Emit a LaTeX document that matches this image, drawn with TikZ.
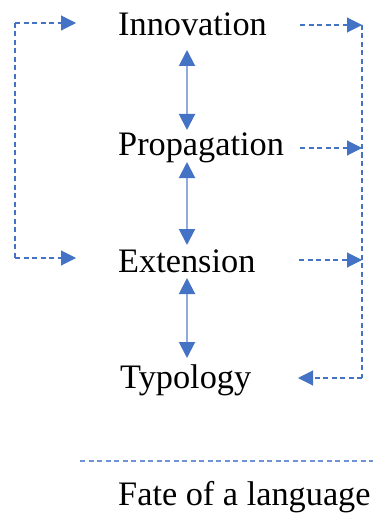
\documentclass[tikz,border=0pt]{standalone}
\usepackage{fontspec}
\setmainfont{Liberation Serif}
\usetikzlibrary{arrows.meta}
\definecolor{tipblue}{HTML}{4472C4}
\definecolor{shaftblue}{HTML}{8FAADC}
\definecolor{ruleblue}{HTML}{6F93D6}
\begin{document}
\begin{tikzpicture}[x=1pt,y=-1pt,
  label/.style={anchor=base west,inner sep=0pt,font=\fontsize{34.3}{40}\selectfont},
  both/.style={draw=shaftblue,line width=2pt,
    {Triangle[length=16pt,width=16pt,color=tipblue]}-{Triangle[length=16pt,width=16pt,color=tipblue]}},
  flow/.style={draw=tipblue,line width=1.1pt,dash pattern=on 5pt off 3.5pt},
  flowtip/.style={flow,-{Triangle[length=15pt,width=15pt,color=tipblue]}}]
\useasboundingbox (0,0) rectangle (375,513);

% stages
\node[label] (inn) at (118,36) {Innovation};
\node[label] (pro) at (118,155) {Propagation};
\node[label] (ext) at (118,272) {Extension};
\node[label] (typ) at (120,388) {Typology};
\node[label] (fate) at (118,505) {Fate of a language};

% two-way links between stages
\coordinate (a1) at (187,50);  \coordinate (a2) at (187,130);
\coordinate (b1) at (187,162); \coordinate (b2) at (187,245);
\coordinate (c1) at (187,278); \coordinate (c2) at (187,358);
\draw[both] (a1) -- (a2);
\draw[both] (b1) -- (b2);
\draw[both] (c1) -- (c2);

% left loop: innovation and extension
\coordinate (l1) at (15,23);  \coordinate (l1t) at (76,23);
\coordinate (l2) at (15,258); \coordinate (l2t) at (76,258);
\draw[flowtip] (l1) -- (l1t);
\draw[flow] (l1) -- (l2);
\draw[flowtip] (l2) -- (l2t);

% right loop: all stages feed typology
\coordinate (r1) at (300,25);  \coordinate (r1t) at (362,25);
\coordinate (r2) at (300,148); \coordinate (r2t) at (362,148);
\coordinate (r3) at (299,260); \coordinate (r3t) at (362,260);
\coordinate (rb) at (362,378); \coordinate (rbt) at (298,378);
\draw[flowtip] (r1) -- (r1t);
\draw[flowtip] (r2) -- (r2t);
\draw[flowtip] (r3) -- (r3t);
\draw[flow] (r1t) -- (rb);
\draw[flowtip] (rb) -- (rbt);

% separator above the outcome
\coordinate (s1) at (80,461); \coordinate (s2) at (373,461);
\draw[draw=ruleblue,line width=1.1pt,dash pattern=on 5pt off 3.5pt] (s1) -- (s2);
\end{tikzpicture}
\end{document}
